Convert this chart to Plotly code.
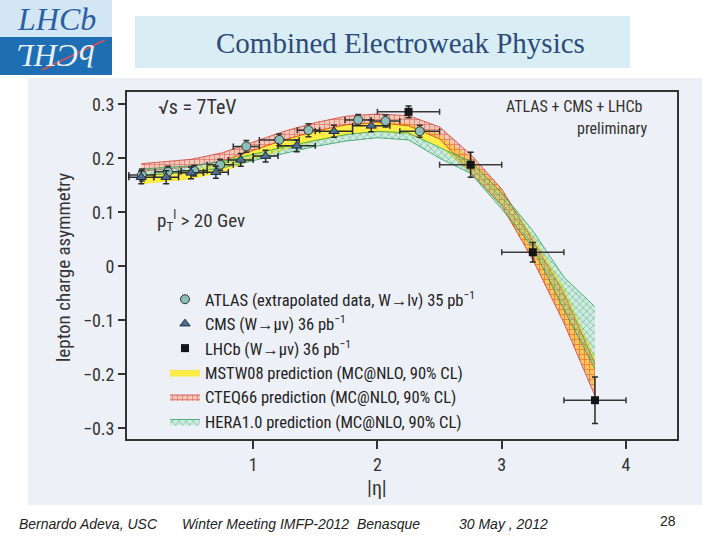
import plotly.graph_objects as go

# ---------------- data ----------------
atlas_eta = [0.105, 0.315, 0.525, 0.735, 0.945, 1.21, 1.445, 1.845, 2.065, 2.34]
atlas_deta = [0.105, 0.105, 0.105, 0.105, 0.105, 0.16, 0.09, 0.105, 0.115, 0.16]
atlas_asym = [0.169, 0.175, 0.177, 0.188, 0.222, 0.234, 0.252, 0.271, 0.269, 0.250]
atlas_err = [0.011, 0.010, 0.010, 0.010, 0.011, 0.011, 0.012, 0.010, 0.011, 0.011]

cms_eta = [0.1, 0.3, 0.5, 0.7, 0.9, 1.1, 1.35, 1.65, 1.95]
cms_deta = [0.1, 0.1, 0.1, 0.1, 0.1, 0.1, 0.15, 0.15, 0.15]
cms_asym = [0.165, 0.165, 0.173, 0.174, 0.197, 0.204, 0.223, 0.250, 0.260]
cms_err = [0.012, 0.012, 0.011, 0.011, 0.012, 0.011, 0.011, 0.011, 0.011]

lhcb_eta = [2.25, 2.75, 3.25, 3.75]
lhcb_deta = [0.25, 0.25, 0.25, 0.25]
lhcb_asym = [0.286, 0.188, 0.026, -0.248]
lhcb_err = [0.011, 0.023, 0.018, 0.043]

band_eta = [0.1, 0.25, 0.5, 0.75, 1.0, 1.25, 1.5, 1.75, 2.0, 2.25, 2.5, 2.75, 3.0, 3.25, 3.5, 3.75]
mstw_lo = [0.153, 0.156, 0.162, 0.175, 0.198, 0.216, 0.232, 0.244, 0.249, 0.245, 0.222, 0.175, 0.112, 0.015, -0.100, -0.230]
mstw_hi = [0.170, 0.172, 0.178, 0.192, 0.216, 0.235, 0.251, 0.262, 0.267, 0.264, 0.243, 0.200, 0.140, 0.055, -0.040, -0.170]
cteq_lo = [0.176, 0.179, 0.184, 0.195, 0.215, 0.234, 0.250, 0.262, 0.266, 0.260, 0.236, 0.175, 0.112, 0.012, -0.105, -0.240]
cteq_hi = [0.190, 0.193, 0.198, 0.210, 0.230, 0.250, 0.266, 0.278, 0.282, 0.279, 0.258, 0.207, 0.143, 0.048, -0.050, -0.180]
hera_lo = [0.168, 0.170, 0.174, 0.182, 0.196, 0.209, 0.222, 0.232, 0.238, 0.234, 0.200, 0.172, 0.106, 0.035, -0.080, -0.190]
hera_hi = [0.180, 0.182, 0.186, 0.194, 0.208, 0.221, 0.233, 0.244, 0.250, 0.247, 0.220, 0.194, 0.136, 0.066, -0.020, -0.075]

x_ticks = [1, 2, 3, 4]
y_ticks = [-0.3, -0.2, -0.1, 0, 0.1, 0.2, 0.3]
y_ticktext = ["\u22120.3", "\u22120.2", "\u22120.1", "0", "0.1", "0.2", "0.3"]

# ---------------- layout helpers ----------------
W, H = 720, 540
L, R, T, B = 127, 677, 92, 439


def px(x):
    return (x - L) / (R - L)


def py(y):
    return (B - y) / (B - T)


FONT = "Liberation Sans Narrow, Arial Narrow, Roboto Condensed, Liberation Sans, sans-serif"
PANEL = "#eef0f7"

fig = go.Figure()


def band(lo, hi, name, rank, fillcolor, linecolor, pattern):
    fig.add_trace(go.Scatter(x=band_eta, y=lo, mode="lines",
                             line=dict(color=linecolor, width=0.8),
                             showlegend=False, hoverinfo="skip"))
    fig.add_trace(go.Scatter(x=band_eta, y=hi, mode="lines", fill="tonexty",
                             fillcolor=fillcolor, fillpattern=pattern,
                             line=dict(color=linecolor, width=0.8),
                             name=name, legendrank=rank))


band(mstw_lo, mstw_hi, "MSTW08 prediction (MC@NLO, 90% CL)", 4,
     "rgba(255,236,60,0.95)", "rgba(250,225,40,1)", None)
band(cteq_lo, cteq_hi, "CTEQ66 prediction (MC@NLO, 90% CL)", 5,
     "rgba(240,110,70,0.45)", "rgba(205,45,30,0.9)",
     dict(shape="+", fgcolor="rgba(210,35,30,0.95)", bgcolor="rgba(245,150,110,0.45)",
          size=5, solidity=0.3))
band(hera_lo, hera_hi, "HERA1.0 prediction (MC@NLO, 90% CL)", 6,
     "rgba(80,200,140,0.3)", "rgba(30,150,80,0.9)",
     dict(shape="x", fgcolor="rgba(25,160,90,0.95)", bgcolor="rgba(140,220,180,0.3)",
          size=5, solidity=0.3))

fig.add_trace(go.Scatter(
    x=atlas_eta, y=atlas_asym, mode="markers",
    error_x=dict(type="data", array=atlas_deta, color="#333", thickness=1.5, width=3),
    error_y=dict(type="data", array=atlas_err, color="#333", thickness=1.5, width=3),
    marker=dict(symbol="circle", size=9, color="#8cbdb7", line=dict(color="#2a3838", width=1)),
    name="ATLAS (extrapolated data, W\u2192l\u03bd) 35 pb<sup>\u22121</sup>", legendrank=1))

fig.add_trace(go.Scatter(
    x=cms_eta, y=cms_asym, mode="markers",
    error_x=dict(type="data", array=cms_deta, color="#2a2a2a", thickness=1.5, width=3),
    error_y=dict(type="data", array=cms_err, color="#2a2a2a", thickness=1.5, width=3),
    marker=dict(symbol="triangle-up", size=9, color="#4e6e90", line=dict(color="#1e2e40", width=1)),
    name="CMS (W\u2192\u03bc\u03bd) 36 pb<sup>\u22121</sup>", legendrank=2))

fig.add_trace(go.Scatter(
    x=lhcb_eta, y=lhcb_asym, mode="markers",
    error_x=dict(type="data", array=lhcb_deta, color="#3a3a3a", thickness=1.5, width=3),
    error_y=dict(type="data", array=lhcb_err, color="#2a2a2a", thickness=1.5, width=3),
    marker=dict(symbol="square", size=8, color="#151515"),
    name="LHCb (W\u2192\u03bc\u03bd) 36 pb<sup>\u22121</sup>", legendrank=3))

shapes = [
    # light panel behind the chart
    dict(type="rect", xref="paper", yref="paper", x0=px(28), x1=px(702), y0=py(505), y1=py(78),
         fillcolor=PANEL, line=dict(width=0), layer="below"),
    # title box
    dict(type="rect", xref="paper", yref="paper", x0=px(135), x1=px(630), y0=py(68), y1=py(16),
         fillcolor="#d9edf5", line=dict(width=0), layer="below"),
    # logo
    dict(type="rect", xref="paper", yref="paper", x0=px(0), x1=px(112), y0=py(37), y1=py(0),
         fillcolor="#d2e6f3", line=dict(width=0), layer="below"),
    dict(type="rect", xref="paper", yref="paper", x0=px(0), x1=px(112), y0=py(75), y1=py(37),
         fillcolor="#1e6eb4", line=dict(width=0), layer="below"),
    dict(type="line", xref="paper", yref="paper", x0=px(42), x1=px(105), y0=py(70), y1=py(40),
         line=dict(color="#d8505a", width=1.5)),
]

ann = [
    dict(text="Combined Electroweak Physics", x=px(400), y=py(43),
         font=dict(family="Liberation Serif, Times New Roman, serif", size=29, color="#2d4a78")),
    dict(text="<i>LHCb</i>", x=px(56), y=py(19),
         font=dict(family="Liberation Serif, serif", size=32, color="#2a5ea8")),
    dict(text="<i>bCHL</i>", x=px(56), y=py(56), textangle=180,
         font=dict(family="Liberation Serif, serif", size=32, color="#e8f0f8")),
    dict(text="lepton charge asymmetry", x=px(63), y=py(268), textangle=-90,
         font=dict(family=FONT, size=19, color="#333")),
    dict(text="|\u03b7|", x=px(377), y=py(488),
         font=dict(family=FONT, size=20, color="#333")),
    dict(text="\u221as = 7TeV", x=px(156), y=py(107), xanchor="left",
         font=dict(family=FONT, size=20, color="#333")),
    dict(text="p<sub>T</sub><sup>l</sup> > 20 Gev", x=px(155), y=py(220), xanchor="left",
         font=dict(family=FONT, size=19, color="#333")),
    dict(text="ATLAS + CMS + LHCb", x=px(644), y=py(106), xanchor="right",
         font=dict(family=FONT, size=16, color="#333")),
    dict(text="preliminary", x=px(650), y=py(128), xanchor="right",
         font=dict(family=FONT, size=16, color="#333")),
    dict(text="<i>Bernardo Adeva, USC</i>", x=px(17), y=py(524), xanchor="left",
         font=dict(family="Liberation Sans, Arial, sans-serif", size=14, color="#222")),
    dict(text="<i>Winter Meeting IMFP-2012  Benasque</i>", x=px(180), y=py(524), xanchor="left",
         font=dict(family="Liberation Sans, Arial, sans-serif", size=14, color="#222")),
    dict(text="<i>30 May , 2012</i>", x=px(457), y=py(524), xanchor="left",
         font=dict(family="Liberation Sans, Arial, sans-serif", size=14, color="#222")),
    dict(text="28", x=px(668), y=py(521),
         font=dict(family="Liberation Sans, Arial, sans-serif", size=14, color="#222")),
]
for a in ann:
    a.setdefault("xanchor", "center")
    a.update(xref="paper", yref="paper", showarrow=False, yanchor="middle")

fig.update_layout(
    width=W, height=H,
    margin=dict(l=L, r=W - R, t=T, b=H - B),
    paper_bgcolor="white", plot_bgcolor=PANEL,
    font=dict(family=FONT, size=16, color="#333"),
    shapes=shapes, annotations=ann,
    legend=dict(x=px(165), y=py(282), xanchor="left", yanchor="top", traceorder="normal",
                bgcolor="rgba(0,0,0,0)", font=dict(family=FONT, size=16.5, color="#222"),
                itemwidth=30, tracegroupgap=0),
    xaxis=dict(range=[-0.015, 4.41], tickvals=x_ticks, ticks="outside", ticklen=8,
               tickwidth=1.5, tickcolor="#333", showgrid=False, zeroline=False,
               showline=True, linecolor="#333", linewidth=1.8, mirror=True,
               tickfont=dict(family=FONT, size=18, color="#333")),
    yaxis=dict(range=[-0.3198, 0.3227], tickvals=y_ticks, ticktext=y_ticktext,
               ticks="outside", ticklen=7, tickwidth=1.5, tickcolor="#333",
               showgrid=False, zeroline=False, showline=True, linecolor="#333",
               linewidth=1.8, mirror=True,
               tickfont=dict(family=FONT, size=18, color="#333")),
)

fig.write_html("out.html")
